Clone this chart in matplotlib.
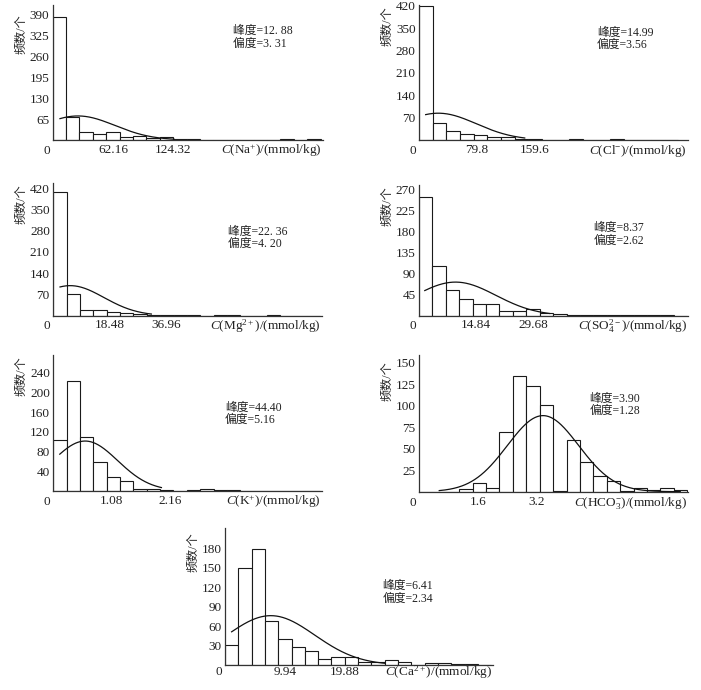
import numpy as np
import matplotlib
matplotlib.use("Agg")
import matplotlib.pyplot as plt

plt.rcParams['font.family'] = ['Liberation Serif', 'Noto Sans CJK SC']
plt.rcParams['mathtext.fontset'] = 'custom'
plt.rcParams['mathtext.rm'] = 'Liberation Serif'
plt.rcParams['mathtext.it'] = 'Liberation Serif:italic'

# ---------------- data ----------------
# Na+
na_counts = [385, 73, 24, 18, 24, 8, 12, 7, 10, 4, 2, 0, 1, 1, 1, 1, 0, 2, 0, 2]
na_bin_width = 13.81
na_xticks = [62.16, 124.32]
na_xticklabels = ["62.16", "124.32"]
na_yticks = [65, 130, 195, 260, 325, 390]
na_fit = dict(mean=26.0, sd=38.0, peak=75.0, start=7.5, end=125.0)
na_stats = ["峰度=12. 88", "偏度=3. 31"]

# Cl-
cl_counts = [420, 52, 28, 18, 16, 8, 8, 4, 2, 1, 1, 2, 1, 1, 2, 1, 1, 0, 1]
cl_bin_width = 18.85
cl_xticks = [79.8, 159.6]
cl_xticklabels = ["79.8", "159.6"]
cl_yticks = [70, 140, 210, 280, 350, 420]
cl_fit = dict(mean=26.6, sd=52.5, peak=84.0, start=9.2, end=146.0)
cl_stats = ["峰度=14.99", "偏度=3.56"]

# Mg2+
mg_counts = [406, 73, 19, 19, 13, 8, 4, 2, 1, 1, 1, 0, 1, 1, 0, 0, 2, 0, 0, 0]
mg_bin_width = 4.36
mg_xticks = [18.48, 36.96]
mg_xticklabels = ["18.48", "36.96"]
mg_yticks = [70, 140, 210, 280, 350, 420]
mg_fit = dict(mean=5.5, sd=11.0, peak=99.0, start=2.2, end=32.0)
mg_stats = ["峰度=22. 36", "偏度=4. 20"]

# SO4 2-
so4_counts = [255, 107, 56, 35, 26, 24, 11, 9, 15, 6, 3, 1, 1, 1, 1, 2, 1, 2, 1, 0]
so4_bin_width = 3.49
so4_xticks = [14.84, 29.68]
so4_xticklabels = ["14.84", "29.68"]
so4_yticks = [45, 90, 135, 180, 225, 270]
so4_fit = dict(mean=9.5, sd=10.5, peak=72.0, start=1.5, end=34.0)
so4_stats = ["峰度=8.37", "偏度=2.62"]

# K+
k_counts = [104, 224, 110, 59, 27, 20, 4, 3, 2, 0, 1, 3, 1, 1, 0, 0, 0, 0, 0, 0]
k_bin_width = 0.247
k_xticks = [1.08, 2.16]
k_xticklabels = ["1.08", "2.16"]
k_yticks = [40, 80, 120, 160, 200, 240]
k_fit = dict(mean=0.59, sd=0.6, peak=101.0, start=0.12, end=2.0)
k_stats = ["峰度=44.40", "偏度=5.16"]

# HCO3-
hco3_counts = [0, 0, 0, 3, 10, 4, 70, 135, 123, 101, 1, 60, 34, 18, 13, 1, 4, 2, 4, 2]
hco3_bin_width = 0.3644
hco3_xticks = [1.6, 3.2]
hco3_xticklabels = ["1.6", "3.2"]
hco3_yticks = [25, 50, 75, 100, 125, 150]
hco3_fit = dict(mean=3.37, sd=0.97, peak=88.5, start=0.55, end=7.1)
hco3_stats = ["峰度=3.90", "偏度=1.28"]

# Ca2+
ca_counts = [31, 149, 179, 68, 40, 27, 21, 9, 13, 13, 4, 5, 7, 4, 0, 3, 3, 2, 2, 0]
ca_bin_width = 2.21
ca_xticks = [9.94, 19.88]
ca_xticklabels = ["9.94", "19.88"]
ca_yticks = [30, 60, 90, 120, 150, 180]
ca_fit = dict(mean=7.6, sd=7.3, peak=76.0, start=1.1, end=26.5)
ca_stats = ["峰度=6.41", "偏度=2.34"]

xlabels = [r"$C$(Na$^{+}$)/(mmol/kg)", r"$C$(Cl$^{-}$)/(mmol/kg)",
           r"$C$(Mg$^{2+}$)/(mmol/kg)", r"$C$(SO$_4^{2-}$)/(mmol/kg)",
           r"$C$(K$^{+}$)/(mmol/kg)", r"$C$(HCO$_3^{-}$)/(mmol/kg)",
           r"$C$(Ca$^{2+}$)/(mmol/kg)"]
ylabel = "频数/个"

# ---------------- layout (pixels in a 701x690 canvas) ----------------
W, H = 701, 690
fig = plt.figure(figsize=(W / 100, H / 100), dpi=100)

# (left, top, right, bottom) px, xmax, ymax, text pos (axes frac), ylabel top offset, xtick pad
layout = [
    ((52.7, 5, 323, 140), 278.6, 421, (0.667, 0.759), 9, 3.0),
    ((419, 5, 688, 140), 371.5, 423, (0.661, 0.749), 1, 3.0),
    ((53.3, 183, 322, 315.7), 87.7, 437, (0.649, 0.586), 1, 2.7),
    ((419, 185, 688, 315.7), 70.0, 280, (0.648, 0.621), 1, 2.7),
    ((53.3, 355, 322, 490.7), 4.97, 276, (0.639, 0.566), 1, 3.3),
    ((419, 355, 688, 491.7), 7.31, 159, (0.633, 0.636), 6, 3.3),
    ((225, 528, 493, 665), 44.5, 211, (0.588, 0.529), 4, 0.6),
]

panels = [
    (na_counts, na_bin_width, na_xticks, na_xticklabels, na_yticks, na_fit, na_stats),
    (cl_counts, cl_bin_width, cl_xticks, cl_xticklabels, cl_yticks, cl_fit, cl_stats),
    (mg_counts, mg_bin_width, mg_xticks, mg_xticklabels, mg_yticks, mg_fit, mg_stats),
    (so4_counts, so4_bin_width, so4_xticks, so4_xticklabels, so4_yticks, so4_fit, so4_stats),
    (k_counts, k_bin_width, k_xticks, k_xticklabels, k_yticks, k_fit, k_stats),
    (hco3_counts, hco3_bin_width, hco3_xticks, hco3_xticklabels, hco3_yticks, hco3_fit, hco3_stats),
    (ca_counts, ca_bin_width, ca_xticks, ca_xticklabels, ca_yticks, ca_fit, ca_stats),
]

edge = '#1a1a1a'
fs = 9.5
for (counts, bw, xt, xtl, yt, fit, stats), (box, xmax, ymax, tpos, yl_off, xpad), xl in zip(panels, layout, xlabels):
    l, t, r, b = box
    ax = fig.add_axes([l / W, 1 - b / H, (r - l) / W, (b - t) / H])
    counts = np.asarray(counts, dtype=float)
    lefts = np.arange(len(counts)) * bw
    ax.bar(lefts, counts, width=bw, align='edge', facecolor='white',
           edgecolor=edge, linewidth=0.8, zorder=2)
    xs = np.linspace(fit['start'], fit['end'], 300)
    ys = fit['peak'] * np.exp(-(xs - fit['mean']) ** 2 / (2 * fit['sd'] ** 2))
    ax.plot(xs, ys, color='#111111', lw=0.9, zorder=3)

    ax.set_xlim(0, xmax)
    ax.set_ylim(0, ymax)
    for s in ['top', 'right']:
        ax.spines[s].set_visible(False)
    for s in ['left', 'bottom']:
        ax.spines[s].set_color('#333333')
        ax.spines[s].set_linewidth(0.9)
    ax.set_xticks(xt)
    ax.set_xticklabels(xtl)
    ax.set_yticks(yt)
    ax.tick_params(axis='both', length=0, labelsize=fs, colors='#222222')
    ax.tick_params(axis='y', pad=2.5)
    ax.tick_params(axis='x', pad=xpad)
    ax.patch.set_alpha(0)

    yoff = -(xpad * 1.389 + 6.6)
    # origin label
    ax.annotate("0", xy=(0, 0), xycoords='data', xytext=(-6, yoff),
                textcoords='offset pixels', ha='center', va='center',
                fontsize=fs, color='#222222', annotation_clip=False)
    # x label at right end of axis
    ax.annotate(xl, xy=(1, 0), xycoords='axes fraction', xytext=(-1, yoff),
                textcoords='offset pixels', ha='right', va='center',
                fontsize=fs, color='#222222', annotation_clip=False)
    # y label
    ax.annotate(ylabel, xy=(0, 1), xycoords='axes fraction', xytext=(-31.5, -yl_off),
                textcoords='offset pixels', ha='center', va='top', rotation=90,
                fontsize=8.7, color='#222222', annotation_clip=False)
    # stats text
    ax.text(tpos[0], tpos[1], "\n".join(stats), transform=ax.transAxes,
            ha='left', va='center', fontsize=8.5, linespacing=1.05, color='#222222')

fig.savefig("out.png", dpi=100)
